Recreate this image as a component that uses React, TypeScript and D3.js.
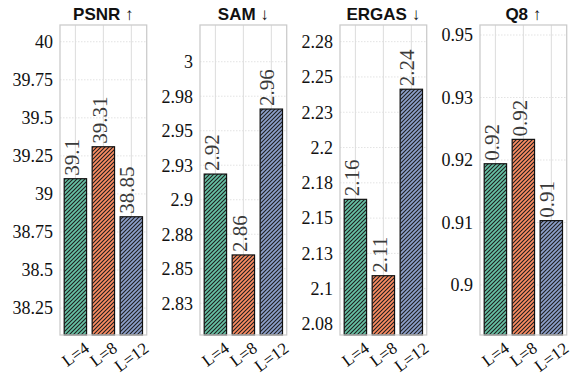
import * as d3 from 'd3'

const categories = ['L=4', 'L=8', 'L=12']
const colors = ['#66c2a5', '#fc8d62', '#8da0cb']
const titles = ['PSNR ↑', 'SAM ↓', 'ERGAS ↓', 'Q8 ↑']

const psnrValues = [39.1, 39.31, 38.85]
const samValues = [2.9186, 2.86, 2.9657]
const ergasValues = [2.1633, 2.1092, 2.2413]
const q8Values = [0.9194, 0.9233, 0.9103]

const psnrLabels = ['39.1', '39.31', '38.85']
const samLabels = ['2.92', '2.86', '2.96']
const ergasLabels = ['2.16', '2.11', '2.24']
const q8Labels = ['0.92', '0.92', '0.91']

const psnrTicks = [38.25, 38.5, 38.75, 39, 39.25, 39.5, 39.75, 40]
const samTicks = [2.825, 2.85, 2.875, 2.9, 2.925, 2.95, 2.975, 3.0]
const ergasTicks = [2.075, 2.1, 2.125, 2.15, 2.175, 2.2, 2.225, 2.25, 2.275]
const q8Ticks = [0.9, 0.91, 0.92, 0.93, 0.94]

const psnrTickLabels = ['38.25', '38.5', '38.75', '39', '39.25', '39.5', '39.75', '40']
const samTickLabels = ['2.83', '2.85', '2.88', '2.9', '2.93', '2.95', '2.98', '3']
const ergasTickLabels = ['2.08', '2.1', '2.13', '2.15', '2.18', '2.2', '2.23', '2.25', '2.28']
const q8TickLabels = ['0.9', '0.91', '0.92', '0.93', '0.95']

const psnrLim = [38.073, 40.11]
const samLim = [2.802, 3.0266]
const ergasLim = [2.0672, 2.2868]
const q8Lim = [0.892, 0.9416]

const panels = [
  { values: psnrValues, labels: psnrLabels, ticks: psnrTicks, tickLabels: psnrTickLabels, lim: psnrLim },
  { values: samValues, labels: samLabels, ticks: samTicks, tickLabels: samTickLabels, lim: samLim },
  { values: ergasValues, labels: ergasLabels, ticks: ergasTicks, tickLabels: ergasTickLabels, lim: ergasLim },
  { values: q8Values, labels: q8Labels, ticks: q8Ticks, tickLabels: q8TickLabels, lim: q8Lim },
]

const width = 577
const height = 377
const top = 25
const bottom = 335
const panelW = 86.7
const panelStep = 140
const firstLeft = 60
const serif = 'Liberation Serif, DejaVu Serif, serif'
const sans = 'Liberation Sans, Arial, sans-serif'
const angle = 36
const xFs = 17

const Panel = ({ p, i }: { p: typeof panels[0], i: number }) => {
  const left = firstLeft + i * panelStep
  const x = d3.scaleLinear().domain([-0.55, 2.55]).range([left, left + panelW])
  const y = d3.scaleLinear().domain(p.lim).range([bottom, top])
  const bw = x(0.4) - x(0)
  const rad = (angle * Math.PI) / 180

  return (
    <g>
      {/* grid */}
      {p.ticks.map((t, k) => (
        <line key={'h' + k} x1={left} x2={left + panelW} y1={y(t)} y2={y(t)}
          stroke="#dcdcdc" strokeWidth={0.8} strokeDasharray="1.5,1.5" />
      ))}
      {categories.map((c, k) => (
        <line key={'v' + k} x1={x(k)} x2={x(k)} y1={top} y2={bottom} stroke="#dcdcdc" strokeWidth={1} />
      ))}
      {/* bars */}
      {p.values.map((v, k) => (
        <g key={'b' + k}>
          <rect x={x(k) - bw} y={y(v)} width={bw * 2} height={bottom - y(v)} fill={colors[k]} />
          <rect x={x(k) - bw} y={y(v)} width={bw * 2} height={bottom - y(v)} fill="url(#hatch)" />
          <rect x={x(k) - bw} y={y(v)} width={bw * 2} height={bottom - y(v)} fill="none"
            stroke="#111" strokeWidth={1.2} />
        </g>
      ))}
      {/* frame */}
      <rect x={left} y={top} width={panelW} height={bottom - top} fill="none" stroke="#cccccc" strokeWidth={1.3} />
      {/* value labels */}
      {p.values.map((v, k) => (
        <text key={'l' + k} transform={`translate(${x(k)},${y(v) - 3}) rotate(-90)`}
          dy="0.15em" style={{ fontFamily: serif }} fontSize={21} fill="#3a3a3a">{p.labels[k]}</text>
      ))}
      {/* y ticks */}
      {p.ticks.map((t, k) => (
        <text key={'t' + k} x={left - 7} y={y(t)} textAnchor="end" dy="0.35em"
          style={{ fontFamily: serif }} fontSize={18} fill="#111">{p.tickLabels[k]}</text>
      ))}
      {/* x ticks */}
      {categories.map((c, k) => {
        const w = c.length * 0.55 * xFs
        const h = Math.sin(rad) * w + Math.cos(rad) * xFs * 0.7
        return (
          <text key={'x' + k} transform={`translate(${x(k)},${bottom + 6 + h / 2}) rotate(${-angle})`}
            textAnchor="middle" dy="0.35em" style={{ fontFamily: serif }} fontSize={xFs} fill="#111">{c}</text>
        )
      })}
      {/* title */}
      <text x={left + panelW / 2} y={20} textAnchor="middle" style={{ fontFamily: sans }} fontWeight="bold"
        fontSize={17} fill="#111">{titles[i]}</text>
    </g>
  )
}

export default function App() {
  return (
    <svg width={width} height={height} style={{ position: 'absolute', left: 0, top: 0, background: '#fff' }}>
      <defs>
        <pattern id="hatch" patternUnits="userSpaceOnUse" width={4} height={4}>
          <path d="M0,4 L4,0 M-1,1 L1,-1 M3,5 L5,3" stroke="#1e1e1e" strokeWidth={1.1} />
        </pattern>
      </defs>
      {panels.map((p, i) => <Panel key={i} p={p} i={i} />)}
    </svg>
  )
}
